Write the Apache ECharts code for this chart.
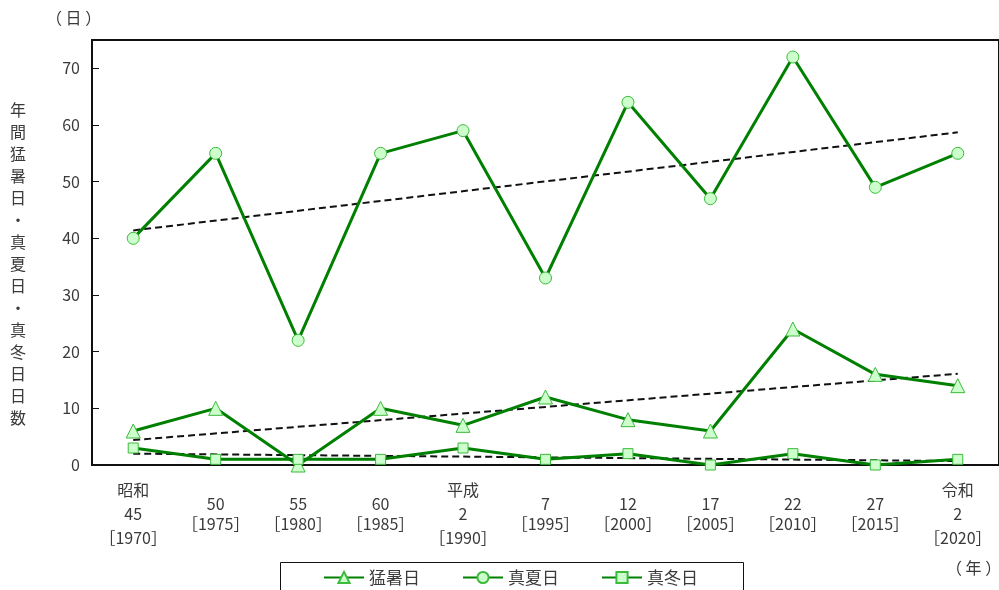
<!DOCTYPE html>
<html>
<head>
<meta charset="utf-8">
<script src="https://cdn.jsdelivr.net/npm/echarts@6/dist/echarts.min.js"></script>
<style>
html,body{margin:0;padding:0;background:#fff;}
#c{width:999px;height:590px;}
</style>
</head>
<body>
<div id="c"></div>
<script>
const categories = ['昭和\n45\n［1970］','50\n［1975］','55\n［1980］','60\n［1985］','平成\n2\n［1990］','7\n［1995］','12\n［2000］','17\n［2005］','22\n［2010］','27\n［2015］','令和\n2\n［2020］'];
const hotDays = [6, 10, 0, 10, 7, 12, 8, 6, 24, 16, 14];
const summerDays = [40, 55, 22, 55, 59, 33, 64, 47, 72, 49, 55];
const winterDays = [3, 1, 1, 1, 3, 1, 2, 0, 2, 0, 1];
// trend line end values (first and last year)
const trendHot = [4.4, 16.1];
const trendSummer = [41.4, 58.7];
const trendWinter = [2.0, 0.7];
const yTicks = [0, 10, 20, 30, 40, 50, 60, 70];

function trendData(ends){
  const d = categories.map(() => null);
  d[0] = ends[0];
  d[d.length - 1] = ends[1];
  return d;
}

const font = '"Noto Sans CJK JP", "Noto Sans", sans-serif';
const txt = '#3a3a3a';
const chart = echarts.init(document.getElementById('c'));

const mainLine = {color: '#008000', width: 3};
const markerStyle = {color: '#ccffcc', borderColor: '#3cba3c', borderWidth: 1};
const trendStyle = {color: '#111', width: 2, type: [7, 4]};

chart.setOption({
  animation: false,
  textStyle: {fontFamily: font},
  grid: {left: 92, top: 40, right: -2, bottom: 125, show: true, borderColor: '#111', borderWidth: 2, backgroundColor: 'transparent'},
  xAxis: {
    type: 'category',
    data: categories,
    boundaryGap: true,
    axisLine: {lineStyle: {color: '#111', width: 2}},
    axisTick: {inside: true, length: 7, lineStyle: {color: '#111', width: 1}},
    axisLabel: {
      interval: 0,
      margin: 49,
      verticalAlign: 'middle',
      formatter: function(v){
        const parts = v.split('\n');
        const key = parts.length === 3 ? 'a' : 'b';
        return parts.map(p => '{' + key + '|' + p + '}').join('\n');
      },
      rich: {
        a: {fontSize: 16, lineHeight: 24, color: txt, fontFamily: font},
        b: {fontSize: 16, lineHeight: 20, color: txt, fontFamily: font}
      }
    },
    splitLine: {show: false}
  },
  yAxis: {
    type: 'value',
    min: 0,
    max: 75,
    interval: 10,
    axisLine: {show: true, lineStyle: {color: '#111', width: 2}},
    axisTick: {show: true, inside: true, length: 7, lineStyle: {color: '#111', width: 1}},
    axisLabel: {
      showMaxLabel: false,
      margin: 12,
      fontSize: 16,
      color: txt,
      fontFamily: font,
      formatter: function(v){ return yTicks.indexOf(v) >= 0 ? String(v) : ''; }
    },
    splitLine: {show: false}
  },
  legend: {
    data: ['猛暑日', '真夏日', '真冬日'],
    left: 323,
    top: 569,
    itemWidth: 40,
    itemHeight: 14,
    itemGap: 42,
    padding: 0,
    textStyle: {fontSize: 17, color: txt, fontFamily: font}
  },
  graphic: [
    {type: 'rect', shape: {x: 280.5, y: 562.5, width: 463, height: 40}, style: {fill: 'none', stroke: '#111', lineWidth: 1}, z: 100},
    {type: 'text', left: 46, top: 10, style: {text: '（ 日 ）', fontSize: 16, fill: txt, fontFamily: font}},
    {type: 'text', left: 946, top: 560, style: {text: '（ 年 ）', fontSize: 16, fill: txt, fontFamily: font}},
    {type: 'text', left: 10, top: 99, style: {text: '年\n間\n猛\n暑\n日\n・\n真\n夏\n日\n・\n真\n冬\n日\n日\n数', fontSize: 16, lineHeight: 22, fill: txt, fontFamily: font, align: 'left'}}
  ],
  series: [
    {name: 'trend1', type: 'line', data: trendData(trendHot), connectNulls: true, symbol: 'none', lineStyle: trendStyle, z: 1, silent: true},
    {name: 'trend2', type: 'line', data: trendData(trendSummer), connectNulls: true, symbol: 'none', lineStyle: trendStyle, z: 1, silent: true},
    {name: 'trend3', type: 'line', data: trendData(trendWinter), connectNulls: true, symbol: 'none', lineStyle: trendStyle, z: 1, silent: true},
    {name: '猛暑日', type: 'line', data: hotDays, symbol: 'triangle', symbolSize: 14, lineStyle: mainLine, itemStyle: markerStyle, z: 3},
    {name: '真夏日', type: 'line', data: summerDays, symbol: 'circle', symbolSize: 12, lineStyle: mainLine, itemStyle: markerStyle, z: 3},
    {name: '真冬日', type: 'line', data: winterDays, symbol: 'rect', symbolSize: 10, lineStyle: mainLine, itemStyle: markerStyle, z: 3}
  ]
});
</script>
</body>
</html>
